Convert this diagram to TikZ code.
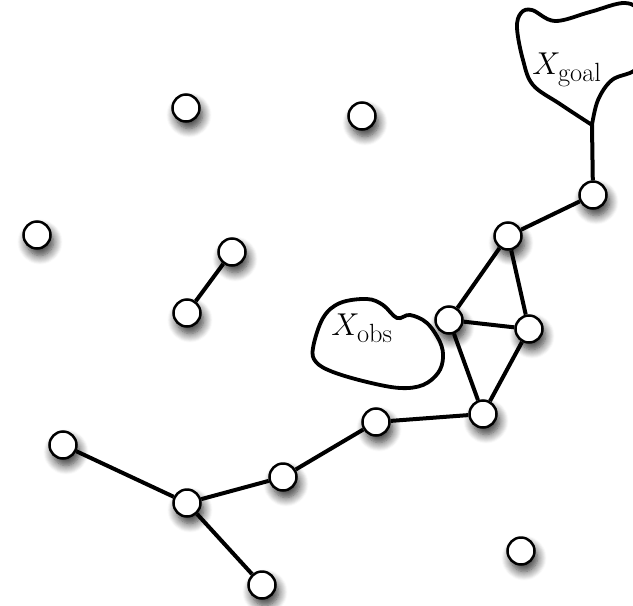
\documentclass[tikz,border=0pt]{standalone}
\usetikzlibrary{shadows.blur}
\begin{document}
\begin{tikzpicture}[x=1pt,y=-1pt,
  vtx/.style={circle,draw=black,line width=2.5pt,fill=white,minimum size=27pt,inner sep=0pt,
    blur shadow={shadow xshift=3pt,shadow yshift=-7pt,shadow blur radius=9pt,shadow blur steps=10,shadow opacity=80}},
  edge/.style={line width=4pt},
  blob/.style={line width=3.8pt,line join=round},
  lbl/.style={font=\fontsize{24.88}{30}\selectfont}]
\useasboundingbox (0,0) rectangle (633,606);
\begin{scope}
\clip (0,0) rectangle (633,606);
% goal region
\draw[blob] plot[smooth,tension=0.6] coordinates {(592,125) (560,104) (533,85) (523,60) (517,28) (521,13) (532,10) (555,21) (590,12) (625,3) (642,15) (646,50) (635,70) (612,80) (598,100) (592,125)};
% obstacle region
\draw[blob] plot[smooth cycle,tension=0.6] coordinates {(313,348) (323,318) (340,303) (367,299) (383,305) (397,318) (410,315) (427,323) (440,342) (443,358) (438,373) (423,385) (400,388) (367,382) (333,372) (316,362)};
\end{scope}
\node[lbl] (goal) at (567,70) {\scalebox{1.27}{$X_{\mathrm{goal}}$}};
\node[lbl] (obs) at (362,328) {\scalebox{1.27}{$X_{\mathrm{obs}}$}};
\coordinate (gbase) at (592,125);
% vertices
\node[vtx] (A) at (186,108) {};
\node[vtx] (B) at (362,116) {};
\node[vtx] (C) at (37,235) {};
\node[vtx] (D) at (232,252) {};
\node[vtx] (E) at (187,313) {};
\node[vtx] (F) at (593,195) {};
\node[vtx] (G) at (508,236) {};
\node[vtx] (H) at (449,320) {};
\node[vtx] (I) at (529,329) {};
\node[vtx] (J) at (483,414) {};
\node[vtx] (K) at (376,422) {};
\node[vtx] (L) at (283,477) {};
\node[vtx] (M) at (187,503) {};
\node[vtx] (N) at (63,445) {};
\node[vtx] (O) at (262,585) {};
\node[vtx] (P) at (521,551) {};
% edges
\draw[edge] (gbase) -- (F);
\draw[edge] (D) -- (E);
\draw[edge] (F) -- (G);
\draw[edge] (G) -- (H);
\draw[edge] (G) -- (I);
\draw[edge] (H) -- (I);
\draw[edge] (H) -- (J);
\draw[edge] (I) -- (J);
\draw[edge] (J) -- (K);
\draw[edge] (K) -- (L);
\draw[edge] (L) -- (M);
\draw[edge] (M) -- (N);
\draw[edge] (M) -- (O);
\end{tikzpicture}
\end{document}
